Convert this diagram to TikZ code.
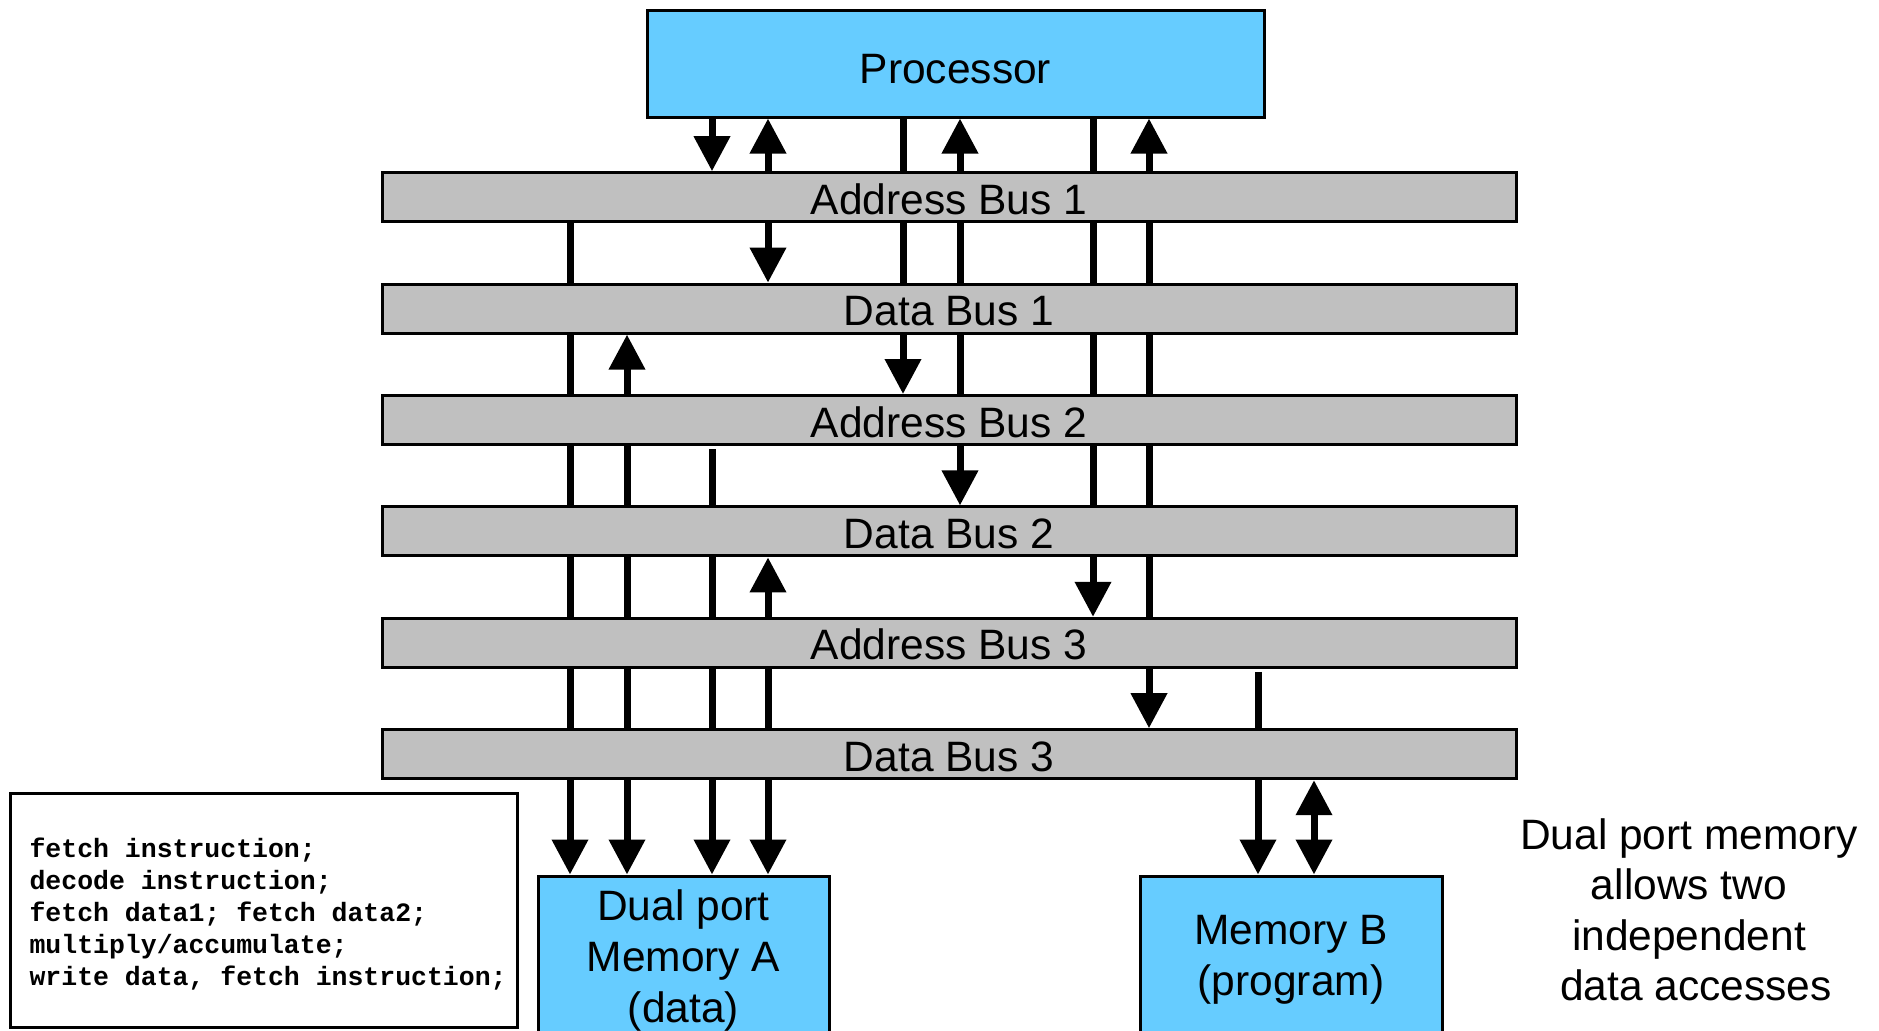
\documentclass[tikz,border=0pt]{standalone}
\usepackage{fontspec}
\setmainfont{Liberation Sans}
\newfontfamily\codefont{Liberation Mono}
\usetikzlibrary{arrows.meta}
\definecolor{boxblue}{HTML}{66CCFF}
\definecolor{busgray}{HTML}{C0C0C0}
\pgfdeclarelayer{bg}
\pgfsetlayers{bg,main}
\begin{document}
\begin{tikzpicture}[x=0.5pt,y=-0.5pt,
  bigfont/.style={font=\fontsize{21.25}{25.5}\selectfont},
  unit/.style={draw=black,line width=1.5pt,fill=boxblue,bigfont,align=center,inner sep=0pt},
  bus/.style={draw=black,line width=1.5pt,fill=busgray,minimum width=567pt,minimum height=24.5pt,bigfont,inner sep=0pt,text height=17pt,text depth=0pt},
  wire/.style={line width=3.5pt,-{Triangle[width=17.5pt,length=17.5pt]}},
  dwire/.style={line width=3.5pt,{Triangle[width=17.5pt,length=17.5pt]}-{Triangle[width=17.5pt,length=17.5pt]}}]
\useasboundingbox (0,0) rectangle (1879,1030);
\clip (0,0) rectangle (1879,1030);

% columns
\coordinate (c1) at (570,0);
\coordinate (c2) at (627,0);
\coordinate (c3) at (712,0);
\coordinate (c4) at (768,0);
\coordinate (c5) at (903,0);
\coordinate (c6) at (960,0);
\coordinate (c7) at (1093,0);
\coordinate (c8) at (1149,0);
\coordinate (c9) at (1258,0);
\coordinate (c10) at (1314,0);

% nodes
\node[unit,minimum width=308.5pt,minimum height=53.5pt,text height=19.5pt,text depth=0pt] (proc) at (955.5,63.5) {Processor};
\node[bus] (ab1) at (949,197.2) {Address Bus 1};
\node[bus] (db1) at (949,308.6) {Data Bus 1};
\node[bus] (ab2) at (949,420) {Address Bus 2};
\node[bus] (db2) at (949,531.4) {Data Bus 2};
\node[bus] (ab3) at (949,642.8) {Address Bus 3};
\node[bus] (db3) at (949,754.2) {Data Bus 3};
\node[unit,minimum width=145.5pt,minimum height=84pt] (memA) at (683.5,960) {Dual port\\Memory A\\(data)};
\node[unit,minimum width=151pt,minimum height=84pt] (memB) at (1291,960) {Memory B\\(program)};

\node[draw=black,line width=1.5pt,fill=white,minimum width=253.5pt,minimum height=117pt,inner sep=0pt,
      text height=16.2pt,text depth=68.8pt,
      font=\codefont\bfseries\fontsize{13.25}{16}\selectfont] (code) at (263.5,910)
  {\begin{tabular}[t]{@{\hspace{4.6pt}}l@{}}fetch instruction;\\decode instruction;\\fetch data1; fetch data2;\\multiply/accumulate;\\write data, fetch instruction;\end{tabular}};

\node[font=\fontsize{21.25}{25.25}\selectfont,align=center,inner sep=0pt] (note) at (1689,910)
  {Dual port memory\\allows two\\independent\\\kern7pt data accesses};

% connectors
\begin{pgfonlayer}{bg}
\draw[wire] (ab1.center -| c1) -- (memA.north -| c1);
\draw[dwire] (db1.south -| c2) -- (memA.north -| c2);
\draw[wire] (proc.south -| c3) -- (ab1.north -| c3);
\draw[wire] ([yshift=-1.5pt]ab2.south -| c3) -- (memA.north -| c3);
\draw[dwire] (proc.south -| c4) -- (db1.north -| c4);
\draw[dwire] (db2.south -| c4) -- (memA.north -| c4);
\draw[wire] (proc.south -| c5) -- (ab2.north -| c5);
\draw[dwire] (proc.south -| c6) -- (db2.north -| c6);
\draw[wire] (proc.south -| c7) -- (ab3.north -| c7);
\draw[dwire] (proc.south -| c8) -- (db3.north -| c8);
\draw[wire] ([yshift=-1.5pt]ab3.south -| c9) -- (memB.north -| c9);
\draw[dwire] (db3.south -| c10) -- (memB.north -| c10);
\end{pgfonlayer}
\end{tikzpicture}
\end{document}
